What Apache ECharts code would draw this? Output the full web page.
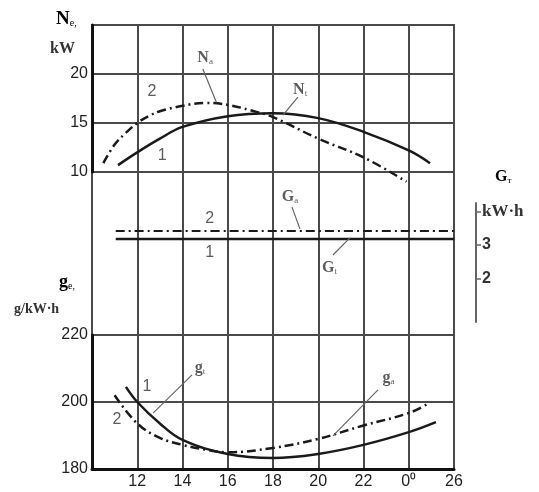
<!DOCTYPE html>
<html>
<head>
<meta charset="utf-8">
<script src="https://cdn.jsdelivr.net/npm/echarts@6/dist/echarts.min.js"></script>
<style>
html,body{margin:0;padding:0;background:#fff}
#chart{width:539px;height:492px}
</style>
</head>
<body>
<div id="chart"></div>
<script>
// time of day, h (24 is shown as 0⁰)
const hourTicks = [10, 12, 14, 16, 18, 20, 22, 24, 26];
const hourNames = {24: '0⁰'};

// power Ne, kW
const powerT = [[11.15,10.7],[12,12.0],[13,13.4],[14,14.6],[16,15.7],[18,16.0],[20,15.5],[22,14.1],[24,12.2],[24.94,10.9]];
const powerA = [[10.5,10.9],[11,12.8],[11.5,14.0],[12,15.0],[12.5,15.7],[13,16.2],[14,16.75],[15,17.05],[16,16.85],[17,16.3],[18,15.6],[20,13.4],[22,11.5],[23.9,9.0]];

// fuel consumption Gт, kg/h
const fuelT = [[11.05,3.18],[26,3.18]];
const fuelA = [[11.05,3.42],[26,3.42]];
const fuelTicks = [2, 3, 4];

// specific consumption ge, g/kW·h
const specT = [[11.5,204.5],[12,200],[13,193.6],[14,188.7],[16,184.5],[18,183.3],[20,184.5],[22,187.2],[24,191],[25.2,194]];
const specA = [[11.0,202],[12,193.6],[13,189.3],[14,187.2],[15,185.8],[16,185],[18,186.3],[20,189],[22,193],[24,196.7],[24.9,199.7]];

// curve notes [x, y, text] and leader lines, in data units of each panel
const powerNotes = [[12.65,18.2,'2'],[13.1,11.7,'1'],[15.0,21.6,'{m|N}{s|a}'],[19.2,18.4,'{m|N}{s|t}']];
const powerLeaders = [[[14.9,20.5],[15.5,17.1]],[[19.1,17.65],[18.44,15.8]]];
const fuelNotes = [[15.2,3.78,'2'],[15.2,2.76,'1'],[18.75,4.43,'{m|G}{s|a}'],[20.5,2.31,'{m|G}{s|t}']];
const fuelLeaders = [[[18.84,4.13],[19.19,3.48]],[[20.65,2.70],[21.4,3.21]]];
const specNotes = [[14.77,210.1,'{m|g}{s|t}'],[12.43,204.5,'1'],[11.1,194.6,'2'],[23.1,207.2,'{m|g}{s|a}']];
const specLeaders = [[[14.42,208.1],[12.7,196.7]],[[22.64,203.6],[20.65,189.9]]];

const chart = echarts.init(document.getElementById('chart'), null, {renderer: 'canvas'});

const gridLine = {show: true, lineStyle: {color: '#4a4a4a', width: 2}};
const rich = {
  m: {fontFamily: 'Liberation Serif', fontSize: 16, fontWeight: 'bold', color: '#333'},
  s: {fontFamily: 'Liberation Serif', fontSize: 9, color: '#333', padding: [7, 0, 0, 0]}
};
const tickFont = {fontFamily: 'Liberation Sans', fontSize: 16, color: '#222'};

function hourAxis(idx, showLabels) {
  return {
    type: 'value', gridIndex: idx, min: 10, max: 26, interval: 2,
    axisTick: {show: false},
    axisLine: showLabels ? {show: true, onZero: false, lineStyle: {color: '#111', width: 3}} : {show: false},
    axisLabel: Object.assign({
      show: showLabels, showMinLabel: false, margin: 5,
      formatter: v => hourNames[v] || String(v)
    }, tickFont),
    splitLine: gridLine
  };
}

function curve(data, idx, dashed, width) {
  return {
    type: 'line', xAxisIndex: idx, yAxisIndex: idx,
    data: data, smooth: 0.4, symbol: 'none', clip: false, silent: true,
    lineStyle: {color: '#1a1a1a', width: width, type: dashed ? [9, 4, 2, 4] : 'solid'}
  };
}

function leaders(list, idx) {
  return list.map(seg => ({
    type: 'line', xAxisIndex: idx, yAxisIndex: idx, data: seg,
    symbol: 'none', silent: true, clip: false,
    lineStyle: {color: '#666', width: 1.2}
  }));
}

function notes(list, idx) {
  return {
    type: 'scatter', xAxisIndex: idx, yAxisIndex: idx, data: list,
    symbolSize: 0, silent: true, clip: false,
    label: {
      show: true, position: 'inside',
      fontFamily: 'Liberation Sans', fontSize: 16, color: '#333',
      formatter: p => p.data[2], rich: rich
    }
  };
}

chart.setOption({
  animation: false,
  grid: [
    {left: 92, top: 25, width: 362, height: 147, show: true, borderColor: '#4a4a4a', borderWidth: 2},
    {left: 92, top: 172, width: 362, height: 163, show: true, borderColor: '#4a4a4a', borderWidth: 2},
    {left: 92, top: 335, width: 362, height: 134, show: true, borderColor: '#4a4a4a', borderWidth: 2},
    {left: 476, top: 203, width: 20, height: 119, show: false}
  ],
  xAxis: [
    hourAxis(0, false),
    hourAxis(1, false),
    hourAxis(2, true),
    {type: 'value', gridIndex: 3, show: false, min: 0, max: 1}
  ],
  yAxis: [
    {
      type: 'value', gridIndex: 0, min: 10, max: 25, interval: 5,
      axisLine: {show: true, lineStyle: {color: '#111', width: 3}},
      axisTick: {show: false},
      axisLabel: Object.assign({showMaxLabel: false, margin: 4}, tickFont),
      splitLine: gridLine
    },
    {type: 'value', gridIndex: 1, min: 0.31, max: 5.18, show: false},
    {
      type: 'value', gridIndex: 2, min: 180, max: 220, interval: 20,
      axisLine: {show: true, lineStyle: {color: '#111', width: 3}},
      axisTick: {show: false},
      axisLabel: Object.assign({margin: 4}, tickFont),
      splitLine: gridLine
    },
    {
      type: 'value', gridIndex: 3, min: 0.7, max: 4.25, position: 'left',
      axisLine: {show: true, lineStyle: {color: '#666', width: 2}},
      axisTick: {show: true, inside: true, length: 5, customValues: fuelTicks, lineStyle: {color: '#666', width: 1.5}},
      axisLabel: {
        show: true, inside: true, margin: 6, customValues: fuelTicks,
        fontFamily: 'Liberation Sans', fontSize: 16, fontWeight: 'bold', color: '#333',
        formatter: v => Math.round(v) === 4 ? '{u|kW·h}' : String(Math.round(v)),
        rich: {u: {fontFamily: 'Liberation Serif', fontSize: 17, fontWeight: 'bold', color: '#333'}}
      },
      splitLine: {show: false}
    }
  ],
  graphic: [
    {type: 'text', left: 56, top: 10, style: {text: '{m|N}{s|e,}', rich: {
      m: {fontFamily: 'Liberation Serif', fontSize: 19, fontWeight: 'bold', color: '#333'},
      s: {fontFamily: 'Liberation Serif', fontSize: 10, color: '#333', padding: [8, 0, 0, 0]}}}},
    {type: 'text', left: 50, top: 41, style: {text: 'kW', font: 'bold 16px "Liberation Serif"', fill: '#333'}},
    {type: 'text', left: 59, top: 273, style: {text: '{m|g}{s|e,}', rich: {
      m: {fontFamily: 'Liberation Serif', fontSize: 18, fontWeight: 'bold', color: '#333'},
      s: {fontFamily: 'Liberation Serif', fontSize: 10, color: '#333', padding: [8, 0, 0, 0]}}}},
    {type: 'text', left: 14, top: 302, style: {text: 'g/kW·h', font: 'bold 14px "Liberation Serif"', fill: '#333'}},
    {type: 'text', left: 495, top: 169, style: {text: '{m|G}{s|т}', rich: rich}}
  ],
  series: [
    curve(powerT, 0, false, 2.5),
    curve(powerA, 0, true, 2.5),
    curve(fuelT, 1, false, 2.5),
    curve(fuelA, 1, true, 2),
    curve(specT, 2, false, 2.5),
    curve(specA, 2, true, 2.5),
    ...leaders(powerLeaders, 0),
    ...leaders(fuelLeaders, 1),
    ...leaders(specLeaders, 2),
    notes(powerNotes, 0),
    notes(fuelNotes, 1),
    notes(specNotes, 2)
  ]
});
</script>
</body>
</html>
